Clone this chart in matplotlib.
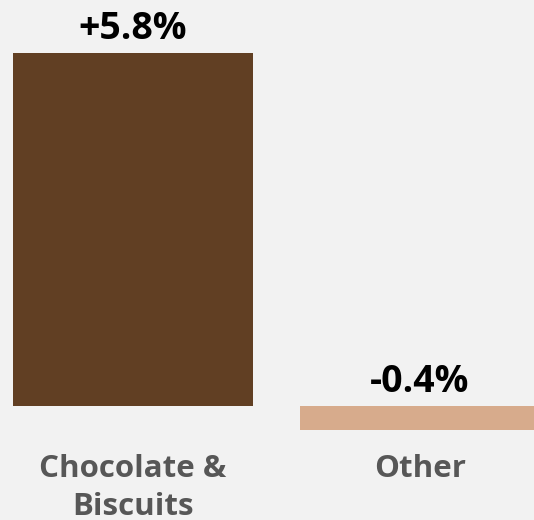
import matplotlib
matplotlib.use("Agg")
import matplotlib.pyplot as plt

categories = ["Chocolate &\nBiscuits", "Other"]
values = [5.8, -0.4]
value_labels = ["+5.8%", "-0.4%"]
colors = ["#613F23", "#D7AB8C"]

plt.rcParams['font.family'] = ['Open Sans', 'DejaVu Sans']

fig = plt.figure(figsize=(5.34, 5.20), dpi=100, facecolor="#F2F2F2")
ax = fig.add_axes([0, 0, 1, 1])
ax.set_facecolor("#F2F2F2")

x = list(range(len(categories)))
ax.bar(x, values, width=0.836, color=colors)

ax.set_xlim(-0.4634, 1.3972)
ax.set_ylim(-1.872, 6.667)
ax.axis('off')

for xi, v, lab in zip(x, values, value_labels):
    top = max(v, 0)
    ax.annotate(lab, xy=(xi, top), xytext=(0, 3.5), textcoords='offset points',
                ha='center', va='bottom', fontsize=27, fontweight='bold',
                color='black')

for xi, cat in zip(x, categories):
    ax.annotate(cat, xy=(xi, 0), xytext=(0, -34.5), textcoords='offset points',
                ha='center', va='top', fontsize=22.5, fontweight='bold',
                color='#575757', linespacing=1.33)

fig.savefig("out.png", dpi=100, facecolor=fig.get_facecolor())
